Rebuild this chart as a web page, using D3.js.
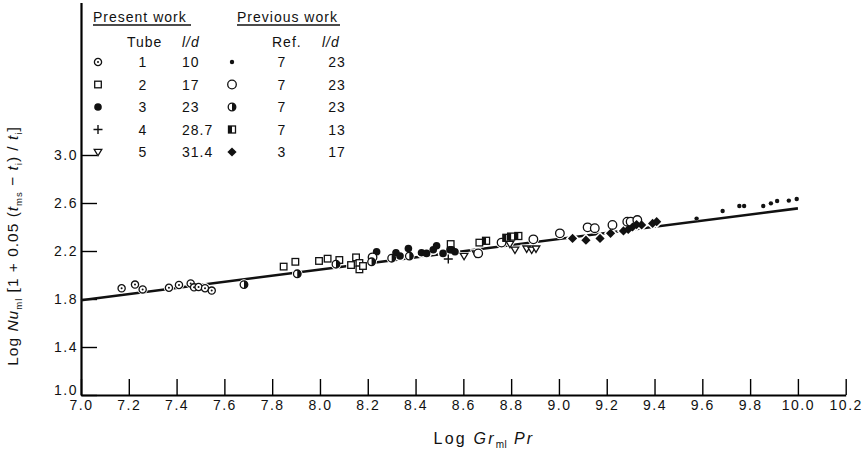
<!DOCTYPE html>
<html>
<head>
<meta charset="utf-8">
<script src="https://cdn.jsdelivr.net/npm/d3@7"></script>
<style>
  body { margin: 0; background: #fff; }
  svg { display: block; }
  text { font-family: "Liberation Sans", Arial, sans-serif; fill: #111; }
  .tick text { font-size: 14px; letter-spacing: 1.5px; }
</style>
</head>
<body>
<svg width="863" height="449"></svg>
<script>
// axis ticks
var xTicks = [7.0, 7.2, 7.4, 7.6, 7.8, 8.0, 8.2, 8.4, 8.6, 8.8, 9.0, 9.2, 9.4, 9.6, 9.8, 10.0, 10.2];
var yTicks = [1.0, 1.4, 1.8, 2.2, 2.6, 3.0];

// correlating line (log GrPr, log Nu)
var fitLine = [[7.0, 1.79], [10.0, 2.555]];

// present work
var tube1 = [[7.17,1.889],[7.226,1.92],[7.258,1.88],[7.368,1.894],[7.41,1.917],[7.459,1.93],[7.473,1.897],[7.492,1.90],[7.519,1.89],[7.547,1.87]];
var tube2 = [[7.848,2.07],[7.897,2.11],[7.996,2.117],[8.032,2.136],[8.081,2.125],[8.13,2.083],[8.151,2.147],[8.165,2.10],[8.165,2.047],[8.18,2.075],[8.547,2.258],[8.667,2.27]];
var tube3 = [[8.237,2.194],[8.318,2.186],[8.335,2.158],[8.37,2.22],[8.425,2.186],[8.446,2.18],[8.474,2.21],[8.488,2.244],[8.515,2.18],[8.544,2.21],[8.551,2.21],[8.565,2.194]];
var tube4 = [[8.537,2.133]];
var tube5 = [[8.603,2.158],[8.653,2.18],[8.795,2.258],[8.816,2.21],[8.865,2.22],[8.886,2.21],[8.904,2.22]];

// previous work
var ref7dot = [[9.576,2.47],[9.685,2.533],[9.755,2.575],[9.775,2.575],[9.855,2.575],[9.887,2.597],[9.913,2.617],[9.962,2.62],[9.995,2.633]];
var ref7open = [[8.22,2.147],[8.662,2.18],[8.76,2.27],[8.893,2.297],[9.004,2.347],[9.12,2.397],[9.15,2.39],[9.224,2.417],[9.286,2.444],[9.30,2.444],[9.328,2.458]];
var ref7half = [[7.682,1.92],[7.905,2.01],[8.067,2.09],[8.216,2.11],[8.30,2.14],[8.374,2.158]];
var ref7halfSq = [[8.695,2.285],[8.78,2.31],[8.80,2.32],[8.83,2.325]];
var ref3diamond = [[9.057,2.305],[9.113,2.29],[9.172,2.305],[9.216,2.347],[9.27,2.367],[9.29,2.38],[9.308,2.40],[9.325,2.42],[9.346,2.417],[9.392,2.43],[9.409,2.444]];

// legend table
var presentTubes = ["1", "2", "3", "4", "5"];
var presentLd = ["10", "17", "23", "28.7", "31.4"];
var presentSymbols = ["dotCircle", "square", "disc", "plus", "triangle"];
var previousRefs = ["7", "7", "7", "7", "3"];
var previousLd = ["23", "23", "23", "13", "17"];
var previousSymbols = ["dot", "circle", "halfCircle", "halfSquare", "diamond"];

var series = [
    {sym: "dotCircle", data: tube1},
    {sym: "square", data: tube2},
    {sym: "disc", data: tube3},
    {sym: "plus", data: tube4},
    {sym: "triangle", data: tube5},
    {sym: "dot", data: ref7dot},
    {sym: "circle", data: ref7open},
    {sym: "halfCircle", data: ref7half},
    {sym: "halfSquare", data: ref7halfSq},
    {sym: "diamond", data: ref3diamond}
];

var svg = d3.select("svg");

var x = d3.scaleLinear().domain([7.0, 10.2]).range([81, 845.7]);
// y axis line runs up to the top of the figure
var y = d3.scaleLinear().domain([1.0, 4.27]).range([395, 2.6]);

// axes
var xAxis = svg.append("g")
    .attr("transform", "translate(0," + y(1.0) + ")")
    .call(d3.axisBottom(x).tickValues(xTicks).tickFormat(d3.format(".1f"))
        .tickSize(-16).tickSizeOuter(0).tickPadding(5));
xAxis.select(".domain").attr("stroke-width", 2.2);
xAxis.selectAll(".tick line").attr("stroke-width", 1.4);

var yAxis = svg.append("g")
    .attr("transform", "translate(" + x(7.0) + ",0)")
    .call(d3.axisLeft(y).tickValues(yTicks).tickFormat(d3.format(".1f"))
        .tickSize(-16).tickSizeOuter(0).tickPadding(3));
yAxis.select(".domain").attr("stroke-width", 2.2);
yAxis.selectAll(".tick line").attr("stroke-width", 1.4);
// the bottom label sits a little above its tick, clear of the 7.0 below it
yAxis.selectAll(".tick text").filter(function (d) { return d === yTicks[0]; }).attr("dy", "-0.05em");
svg.selectAll(".tick text").attr("fill", "#111");

// fitted line
svg.append("path")
    .datum(fitLine)
    .attr("fill", "none")
    .attr("stroke", "#111")
    .attr("stroke-width", 2.6)
    .attr("d", d3.line().x(function (d) { return x(d[0]); }).y(function (d) { return y(d[1]); }));

// marker drawing
function drawMarker(g, sym, cx, cy, halo) {
    var s = g.append("g").attr("transform", "translate(" + cx + "," + cy + ")");
    var ink = halo ? "#fff" : "#111";
    var paper = "#fff";
    var sw = halo ? 3 : 1.3;
    if (sym === "dotCircle") {
        s.append("circle").attr("r", 3.6).attr("fill", paper).attr("stroke", ink).attr("stroke-width", sw);
        if (!halo) s.append("circle").attr("r", 1).attr("fill", ink);
    } else if (sym === "square") {
        s.append("rect").attr("x", -3.3).attr("y", -3.3).attr("width", 6.6).attr("height", 6.6)
            .attr("fill", paper).attr("stroke", ink).attr("stroke-width", sw);
    } else if (sym === "disc") {
        s.append("circle").attr("r", 3.8).attr("fill", ink).attr("stroke", ink).attr("stroke-width", halo ? 3 : 0);
    } else if (sym === "plus") {
        if (halo) return;
        s.append("path").attr("d", "M-4.5,0H4.5M0,-4.5V4.5").attr("stroke", ink).attr("stroke-width", 1.4);
    } else if (sym === "triangle") {
        s.append("path").attr("d", "M-3.8,-2.6L3.8,-2.6L0,3.8Z")
            .attr("fill", paper).attr("stroke", ink).attr("stroke-width", sw);
    } else if (sym === "dot") {
        s.append("circle").attr("r", 2.2).attr("fill", ink);
    } else if (sym === "circle") {
        s.append("circle").attr("r", 4.3).attr("fill", paper).attr("stroke", ink).attr("stroke-width", sw);
    } else if (sym === "halfCircle") {
        s.append("circle").attr("r", 3.8).attr("fill", paper).attr("stroke", ink).attr("stroke-width", sw);
        if (!halo) s.append("path").attr("d", "M0,-3.8A3.8,3.8 0 0 1 0,3.8Z").attr("fill", ink);
    } else if (sym === "halfSquare") {
        s.append("rect").attr("x", -3.5).attr("y", -3.5).attr("width", 7).attr("height", 7)
            .attr("fill", paper).attr("stroke", ink).attr("stroke-width", sw);
        if (!halo) s.append("rect").attr("x", -3.5).attr("y", -3.5).attr("width", 3.5).attr("height", 7).attr("fill", ink);
    } else if (sym === "diamond") {
        s.append("path").attr("d", "M0,-4.6L4.6,0L0,4.6L-4.6,0Z").attr("fill", ink)
            .attr("stroke", ink).attr("stroke-width", halo ? 3 : 0);
    }
}

var pts = svg.append("g");
series.forEach(function (sr) {
    sr.data.forEach(function (d) { drawMarker(pts, sr.sym, x(d[0]), y(d[1]), true); });
});
series.forEach(function (sr) {
    sr.data.forEach(function (d) { drawMarker(pts, sr.sym, x(d[0]), y(d[1]), false); });
});

// axis titles
var xt = svg.append("text").attr("x", 484).attr("y", 444).attr("text-anchor", "middle")
    .style("font-size", "16px").style("letter-spacing", "2.2px");
xt.append("tspan").text("Log ");
xt.append("tspan").style("font-style", "italic").text("Gr");
xt.append("tspan").attr("dy", 4).style("font-size", "10px").style("letter-spacing", "0.5px").text("ml");
xt.append("tspan").attr("dy", -4).text(" ");
xt.append("tspan").style("font-style", "italic").text("Pr");

var yt = svg.append("text").attr("transform", "translate(18,246) rotate(-90)").attr("text-anchor", "middle")
    .style("font-size", "15.5px").style("letter-spacing", "1px");
yt.append("tspan").text("Log ");
yt.append("tspan").style("font-style", "italic").text("Nu");
yt.append("tspan").attr("dy", 4).style("font-size", "9.5px").text("ml");
yt.append("tspan").attr("dy", -4).text(" [1 + 0.05 (");
yt.append("tspan").style("font-style", "italic").text("t");
yt.append("tspan").attr("dy", 4).style("font-size", "9.5px").text("ms");
yt.append("tspan").attr("dy", -4).text(" \u2212 ");
yt.append("tspan").style("font-style", "italic").text("t");
yt.append("tspan").attr("dy", 4).style("font-size", "9.5px").text("i");
yt.append("tspan").attr("dy", -4).text(") / ");
yt.append("tspan").style("font-style", "italic").text("t");
yt.append("tspan").attr("dy", 4).style("font-size", "9.5px").text("i");
yt.append("tspan").attr("dy", -4).text("]");

// legend
var leg = svg.append("g").style("font-size", "14px").style("letter-spacing", "1px");
function legText(tx, ty, str, anchor, italic) {
    return leg.append("text").attr("x", tx).attr("y", ty).attr("text-anchor", anchor || "start")
        .attr("dominant-baseline", "central").style("font-style", italic ? "italic" : "normal").text(str);
}
legText(93, 17, "Present work");
legText(237, 17, "Previous work");
leg.append("line").attr("x1", 93).attr("x2", 191).attr("y1", 25).attr("y2", 25).attr("stroke", "#111").attr("stroke-width", 1.4);
leg.append("line").attr("x1", 237).attr("x2", 340).attr("y1", 25).attr("y2", 25).attr("stroke", "#111").attr("stroke-width", 1.4);
legText(127, 42, "Tube");
legText(182, 42, "l/d", "start", true);
legText(272, 42, "Ref.");
legText(322, 42, "l/d", "start", true);

var rowY = d3.scalePoint().domain(d3.range(presentTubes.length)).range([62, 152]);
presentTubes.forEach(function (t, i) {
    drawMarker(leg, presentSymbols[i], 98, rowY(i), false);
    legText(143, rowY(i), t, "middle");
    legText(182, rowY(i), presentLd[i]);
});
previousRefs.forEach(function (r, i) {
    drawMarker(leg, previousSymbols[i], 232, rowY(i), false);
    legText(282, rowY(i), r, "middle");
    legText(337, rowY(i), previousLd[i], "middle");
});
</script>
</body>
</html>
